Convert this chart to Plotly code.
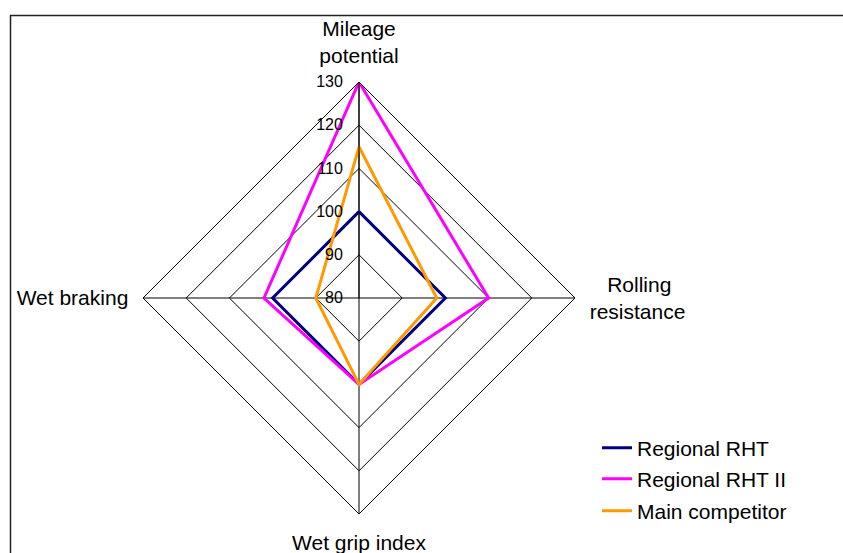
import plotly.graph_objects as go

W, H = 843, 553

NB = "\u00a0"
categories = ["Mileage<br>potential", NB * 3 + "Rolling<br>resistance", "Wet grip index", "Wet braking"]
series_names = ["Regional RHT", "Regional RHT II", "Main competitor"]
regional_rht = [100, 100, 100, 100]
regional_rht_ii = [130, 110, 100, 102]
main_competitor = [115, 98, 100, 90]
radial_ticks = [80, 90, 100, 110, 120, 130]

colors = ["#000080", "#FF00FF", "#FF9900"]
all_values = [regional_rht, regional_rht_ii, main_competitor]

fig = go.Figure()
legends = ["legend", "legend2", "legend3"]
for name, vals, col, lg in zip(series_names, all_values, colors, legends):
    fig.add_trace(go.Scatterpolar(
        r=vals + vals[:1],
        theta=categories + categories[:1],
        mode="lines",
        name=name,
        line=dict(color=col, width=3),
        legend=lg,
    ))

cx, cy, R = 359, 298, 216
dom_x = [(cx - R) / W, (cx + R) / W]
dom_y = [(H - cy - R) / H, (H - cy + R) / H]

font = "Liberation Sans, Arial, sans-serif"

def leg(ypix):
    return dict(
        x=597 / W, y=1 - ypix / H, xanchor="left", yanchor="middle",
        font=dict(family=font, size=21, color="#000"),
        bgcolor="rgba(0,0,0,0)", borderwidth=0, itemwidth=30,
    )

fig.update_layout(
    width=W, height=H,
    margin=dict(l=0, r=0, t=0, b=0),
    paper_bgcolor="white",
    showlegend=True,
    polar=dict(
        domain=dict(x=dom_x, y=dom_y),
        bgcolor="white",
        gridshape="linear",
        angularaxis=dict(
            rotation=90, direction="clockwise",
            showline=True, linecolor="black", linewidth=1,
            gridcolor="black", gridwidth=1,
            ticks="outside", ticklen=10, tickcolor="rgba(0,0,0,0)",
            tickfont=dict(family=font, size=21, color="#000"),
        ),
        radialaxis=dict(
            range=[80, 130], tickvals=radial_ticks, angle=90,
            side="counterclockwise",
            showline=True, linecolor="black", linewidth=1,
            gridcolor="black", gridwidth=1,
            ticks="outside", ticklen=10, tickcolor="rgba(0,0,0,0)",
            tickfont=dict(family=font, size=16, color="#000"),
            tickangle=90,
        ),
    ),
    legend=leg(448),
    legend2=leg(479),
    legend3=leg(511),
    shapes=[dict(
        type="rect", xref="paper", yref="paper",
        x0=10.5 / W, x1=1.05, y0=-0.05, y1=1 - 15.5 / H,
        line=dict(color="#222", width=1.5), fillcolor="rgba(0,0,0,0)", layer="below",
    )],
)

fig.write_html("out.html")
